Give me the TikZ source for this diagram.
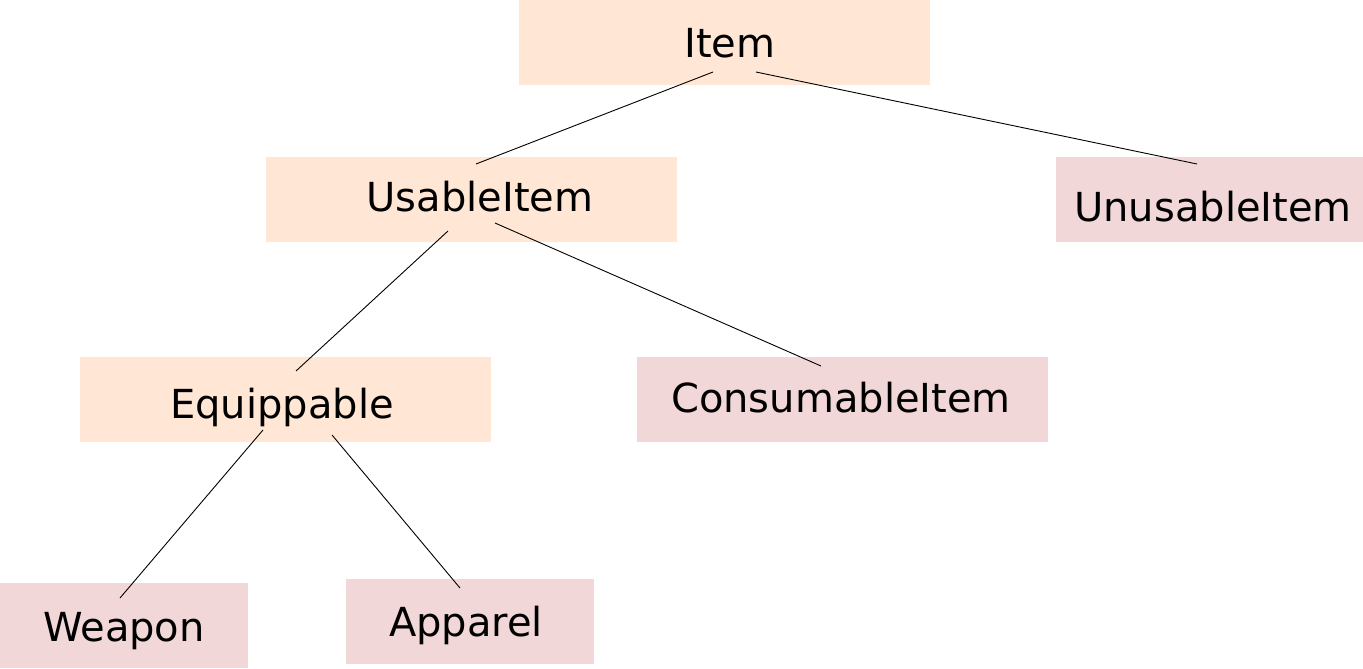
\documentclass[tikz,border=0pt]{standalone}
\usepackage{fontspec}
\setmainfont{DejaVu Sans}
\usetikzlibrary{calc}
\definecolor{peach}{HTML}{FFE6D5}
\definecolor{rosy}{HTML}{F2D7D8}
\begin{document}
\begin{tikzpicture}[x=1pt,y=-1pt,
  box/.style={inner sep=0pt,outer sep=0pt,anchor=north west},
  usable/.style={box,fill=peach},
  leaf/.style={box,fill=rosy},
  lbl/.style={anchor=base,inner sep=0pt,font=\fontsize{40}{48}\selectfont},
  link/.style={draw=black,line width=0.9pt}]
\useasboundingbox (0,0) rectangle (1363,669);
% boxes
\node[usable,minimum width=411pt,minimum height=85pt] (item) at (519,0) {};
\node[usable,minimum width=411pt,minimum height=85pt] (usable) at (266,157) {};
\node[leaf,minimum width=307pt,minimum height=85pt] (unusable) at (1056,157) {};
\node[usable,minimum width=411pt,minimum height=85pt] (equip) at (80,357) {};
\node[leaf,minimum width=411pt,minimum height=85pt] (consum) at (637,357) {};
\node[leaf,minimum width=248pt,minimum height=85pt] (weapon) at (0,583) {};
\node[leaf,minimum width=248pt,minimum height=85pt] (apparel) at (346,579) {};
% labels
\node[lbl] (itemT) at (730,58) {Item};
\node[lbl] (usableT) at (480,211) {UsableItem};
\node[lbl] (unusableT) at (1213,221) {UnusableItem};
\node[lbl] (equipT) at (282,418) {Equippable};
\node[lbl] (consumT) at (841,412) {ConsumableItem};
\node[lbl] (weaponT) at (124,641) {Weapon};
\node[lbl] (apparelT) at (466,636) {Apparel};
% connector end points
\coordinate (itemA) at ($(item.south)+(-11.5,-13)$);
\coordinate (itemB) at ($(item.south)+(31.5,-13)$);
\coordinate (usableTop) at ($(usable.north)+(4.5,7)$);
\coordinate (usableA) at ($(usable.south)+(-23.5,-11)$);
\coordinate (usableB) at ($(usable.south)+(23.5,-19)$);
\coordinate (unusableTop) at ($(unusable.north)+(-12.5,7)$);
\coordinate (equipTop) at ($(equip.north)+(10.5,14)$);
\coordinate (equipA) at ($(equip.south)+(-22.5,-12)$);
\coordinate (equipB) at ($(equip.south)+(46.5,-7)$);
\coordinate (consumTop) at ($(consum.north)+(-21.5,9)$);
\coordinate (weaponTop) at ($(weapon.north)+(-4,15)$);
\coordinate (apparelTop) at ($(apparel.north)+(-10,9)$);
% connectors
\draw[link] (itemA) -- (usableTop);
\draw[link] (itemB) -- (unusableTop);
\draw[link] (usableA) -- (equipTop);
\draw[link] (usableB) -- (consumTop);
\draw[link] (equipA) -- (weaponTop);
\draw[link] (equipB) -- (apparelTop);
\end{tikzpicture}
\end{document}
